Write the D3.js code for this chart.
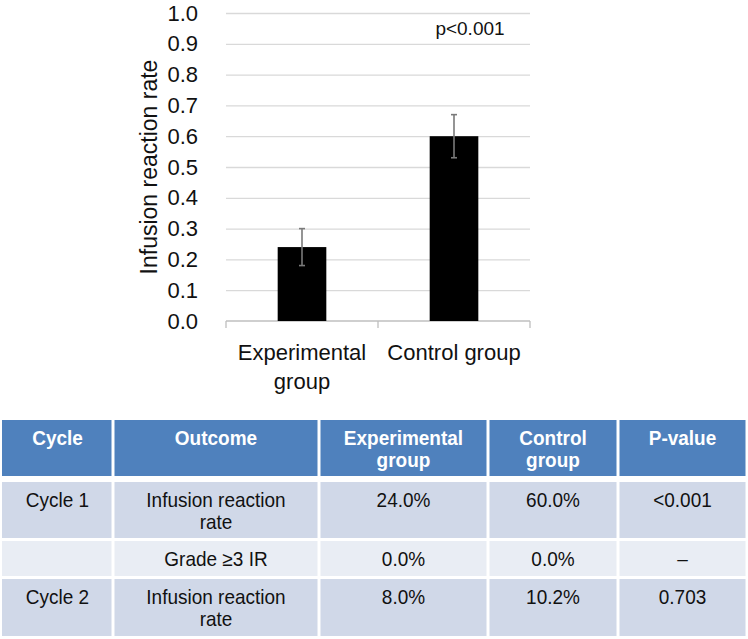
<!DOCTYPE html>
<html>
<head>
<meta charset="utf-8">
<script src="https://cdn.jsdelivr.net/npm/d3@7"></script>
<style>
  body { margin: 0; background: #fff; }
  svg text { font-family: "Liberation Sans", Arial, sans-serif; }
</style>
</head>
<body>
<div id="chart"></div>
<script>

// chart data
var categories = ["Experimental group", "Control group"]
var labelLines = [["Experimental", "group"], ["Control group"]]
var rates = [0.24, 0.60]
var errLow = [0.18, 0.53]
var errHigh = [0.30, 0.67]
var yTicks = [0, 0.1, 0.2, 0.3, 0.4, 0.5, 0.6, 0.7, 0.8, 0.9, 1.0]
var pLabel = "p<0.001"

// table data
var tableHeader = [["Cycle"], ["Outcome"], ["Experimental", "group"], ["Control", "group"], ["P-value"]]
var tableRows = [
	[["Cycle 1"], ["Infusion reaction", "rate"], ["24.0%"], ["60.0%"], ["<0.001"]],
	[[""], ["Grade \u22653 IR"], ["0.0%"], ["0.0%"], ["\u2013"]],
	[["Cycle 2"], ["Infusion reaction", "rate"], ["8.0%"], ["10.2%"], ["0.703"]]
]

function init() {

	var svg = d3.select("#chart").append("svg")
		.attr("width", 748)
		.attr("height", 639)

	var margin = {top: 13, left: 226}
	var width = 304
	var height = 308

	var plot = svg.append("g").attr("transform", "translate(" + margin.left + "," + margin.top + ")")

	var x = d3.scaleBand().domain(categories).range([0, width]).paddingInner(0).paddingOuter(0)
	var y = d3.scaleLinear().domain([0, 1]).range([height, 0])

	// gridlines
	var grid = plot.append("g")
		.attr("class", "grid")
		.call(d3.axisLeft(y).tickValues(yTicks.slice(1)).tickSize(-width).tickFormat(""))
	grid.select(".domain").remove()
	grid.selectAll("line").attr("stroke", "#d9d9d9").attr("stroke-width", 1.3)

	// y axis labels
	var yAxis = plot.append("g")
		.call(d3.axisLeft(y).tickValues(yTicks).tickSize(0).tickPadding(28).tickFormat(d3.format(".1f")))
	yAxis.select(".domain").remove()
	yAxis.selectAll("text")
		.style("font-size", "22px")
		.attr("fill", "#111")

	// y title
	svg.append("text")
		.attr("transform", "translate(157,167) rotate(-90)")
		.attr("text-anchor", "middle")
		.style("font-size", "23px")
		.attr("fill", "#111")
		.text("Infusion reaction rate")

	// baseline + category boundary ticks
	var base = plot.append("g").attr("transform", "translate(0," + height + ")")
	base.append("line")
		.attr("x1", 0).attr("x2", width)
		.attr("stroke", "#bfbfbf").attr("stroke-width", 1.3)
	var bounds = categories.map(function(d) { return x(d) }).concat([width])
	base.selectAll(".btick")
		.data(bounds)
		.enter().append("line")
		.attr("class", "btick")
		.attr("x1", function(d) { return d }).attr("x2", function(d) { return d })
		.attr("y1", 0).attr("y2", 7)
		.attr("stroke", "#bfbfbf").attr("stroke-width", 1.3)

	// bars
	var barW = x.bandwidth() * 0.32
	plot.selectAll(".bar")
		.data(rates)
		.enter().append("rect")
		.attr("class", "bar")
		.attr("x", function(d, i) { return x(categories[i]) + x.bandwidth() / 2 - barW / 2 })
		.attr("y", function(d) { return y(d) })
		.attr("width", barW)
		.attr("height", function(d) { return y(0) - y(d) })
		.attr("fill", "#000")

	// error bars
	var err = plot.selectAll(".err")
		.data(categories)
		.enter().append("g")
		.attr("class", "err")
		.attr("transform", function(d) { return "translate(" + (x(d) + x.bandwidth() / 2) + ",0)" })
	err.append("line")
		.attr("y1", function(d, i) { return y(errLow[i]) })
		.attr("y2", function(d, i) { return y(errHigh[i]) })
		.attr("stroke", "#7a7a7a").attr("stroke-width", 1.6)
	err.append("line")
		.attr("x1", -3).attr("x2", 3)
		.attr("y1", function(d, i) { return y(errLow[i]) })
		.attr("y2", function(d, i) { return y(errLow[i]) })
		.attr("stroke", "#7a7a7a").attr("stroke-width", 1.6)
	err.append("line")
		.attr("x1", -3).attr("x2", 3)
		.attr("y1", function(d, i) { return y(errHigh[i]) })
		.attr("y2", function(d, i) { return y(errHigh[i]) })
		.attr("stroke", "#7a7a7a").attr("stroke-width", 1.6)

	// category labels
	var xl = plot.selectAll(".xlab")
		.data(categories)
		.enter().append("text")
		.attr("class", "xlab")
		.attr("text-anchor", "middle")
		.attr("transform", function(d) { return "translate(" + (x(d) + x.bandwidth() / 2) + "," + (height + 39) + ")" })
		.style("font-size", "22px")
		.attr("fill", "#111")
	xl.selectAll("tspan")
		.data(function(d, i) { return labelLines[i] })
		.enter().append("tspan")
		.attr("x", 0)
		.attr("dy", function(d, i) { return i == 0 ? 0 : 29 })
		.text(function(d) { return d })

	// p value
	plot.append("text")
		.attr("x", x(categories[1]) + x.bandwidth() / 2 + 16)
		.attr("y", y(0.93))
		.attr("text-anchor", "middle")
		.style("font-size", "19px")
		.attr("fill", "#111")
		.text(pLabel)

	// table
	var colEdges = [2, 113, 319, 488, 618, 747]
	var rowTops = [420, 482, 541, 579]
	var rowBottoms = [476, 538, 576, 636]
	var rowFill = ["#4f81bd", "#d0d8e8", "#e9edf4", "#d0d8e8"]
	var allRows = [tableHeader].concat(tableRows)

	var tbl = svg.append("g").attr("class", "table")

	var rows = tbl.selectAll(".trow")
		.data(allRows)
		.enter().append("g")
		.attr("class", "trow")

	rows.each(function(row, r) {
		var g = d3.select(this)
		var cells = g.selectAll(".cell")
			.data(row)
			.enter().append("g")
			.attr("class", "cell")
		cells.append("rect")
			.attr("x", function(d, c) { return colEdges[c] + (c == 0 ? 0 : 1.5) })
			.attr("y", rowTops[r])
			.attr("width", function(d, c) { return colEdges[c + 1] - colEdges[c] - (c == 0 ? 1.5 : 3) })
			.attr("height", rowBottoms[r] - rowTops[r])
			.attr("fill", rowFill[r])
		// slightly condensed text, as in the source slide
		var t = cells.append("text")
			.attr("text-anchor", "middle")
			.attr("transform", function(d, c) { return "translate(" + ((colEdges[c] + colEdges[c + 1]) / 2) + "," + (rowTops[r] + 25) + ") scale(0.95,1)" })
			.style("font-size", "20px")
			.style("font-weight", r == 0 ? "bold" : "normal")
			.attr("fill", r == 0 ? "#fff" : "#111")
		t.selectAll("tspan")
			.data(function(d) { return d })
			.enter().append("tspan")
			.attr("x", 0)
			.attr("dy", function(d, i) { return i == 0 ? 0 : 22 })
			.text(function(d) { return d })
	})

}

init();

</script>
</body>
</html>
